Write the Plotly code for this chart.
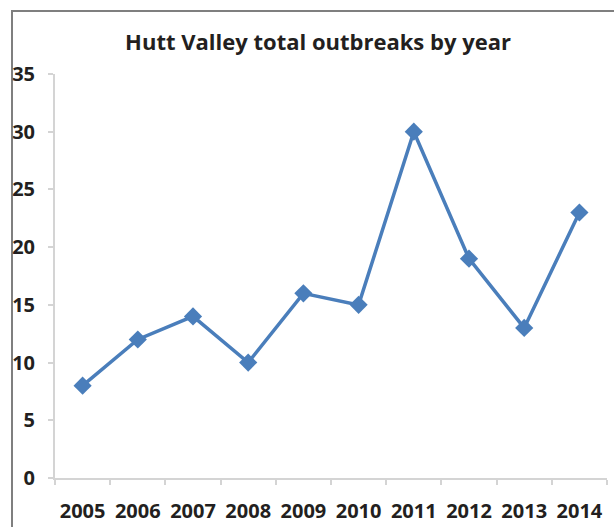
import plotly.graph_objects as go

years = ["2005", "2006", "2007", "2008", "2009", "2010", "2011", "2012", "2013", "2014"]
outbreaks = [8, 12, 14, 10, 16, 15, 30, 19, 13, 23]
y_ticks = [0, 5, 10, 15, 20, 25, 30, 35]

BLUE = "#4a7ebb"
AXIS = "#d4d4d4"
TXT = "#231f20"
FONT = "Open Sans"

fig = go.Figure()
fig.add_trace(go.Scatter(
    x=years, y=outbreaks, mode="lines+markers",
    line=dict(color=BLUE, width=3.5),
    marker=dict(symbol="diamond", size=14, color=BLUE),
    showlegend=False, hoverinfo="x+y",
))

fig.update_layout(
    width=614, height=527,
    margin=dict(l=55, r=7, t=74, b=49),
    paper_bgcolor="white", plot_bgcolor="white",
    font=dict(family=FONT, color=TXT),
    title=dict(text="Hutt Valley total outbreaks by year",
               font=dict(family=FONT, size=22, weight="bold", color=TXT),
               x=0.518, xanchor="center", y=1 - 42 / 527, yanchor="middle"),
    xaxis=dict(type="category", tickson="boundaries", showline=True, linecolor=AXIS,
               linewidth=2, ticks="outside", ticklen=5, tickcolor=AXIS, tickwidth=1.5,
               showgrid=False, zeroline=False, range=[-0.5, 9.5], tickangle=0,
               automargin=False,
               tickfont=dict(family=FONT, size=20, weight="bold", color=TXT),
               ticklabelstandoff=14),
    yaxis=dict(range=[0, 35], tickvals=y_ticks, showline=True, linecolor=AXIS,
               linewidth=2, ticks="outside", ticklen=5, tickcolor=AXIS, tickwidth=1.5,
               showgrid=False, zeroline=False, automargin=False,
               tickfont=dict(family=FONT, size=20, weight="bold", color=TXT),
               ticklabelstandoff=9),
)

fig.add_shape(type="rect", xref="paper", yref="paper",
              x0=(12 - 55) / 552, x1=(630 - 55) / 552,
              y0=(478 - 540) / 404, y1=(478 - 11) / 404,
              line=dict(color="#7f7f7f", width=2), fillcolor="rgba(0,0,0,0)", layer="below")

fig.write_html("out.html")
